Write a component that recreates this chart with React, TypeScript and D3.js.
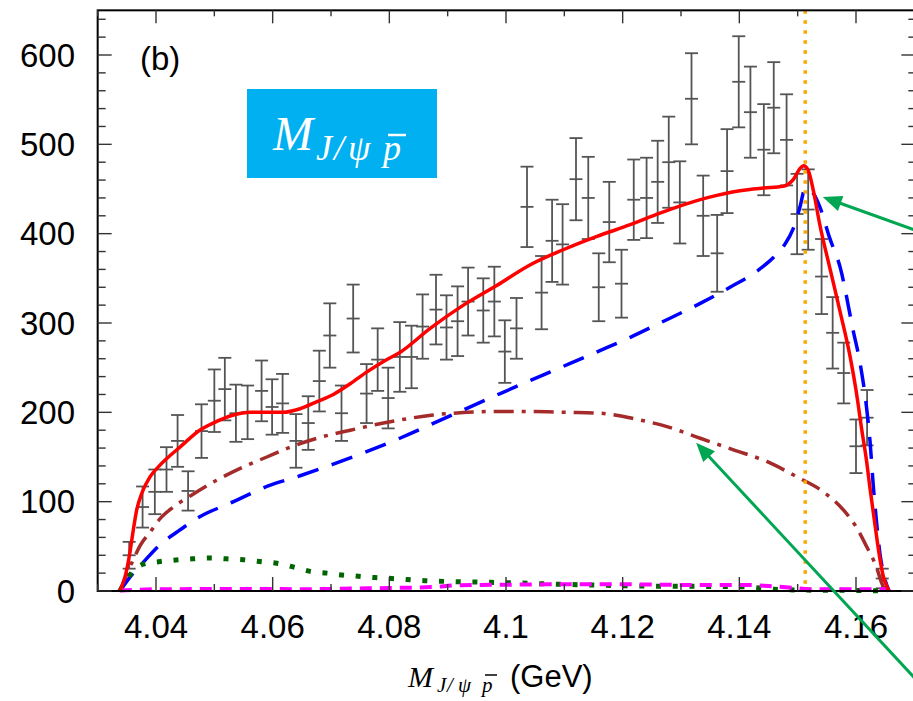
import React from 'react';
import * as d3 from 'd3';

// ---------- data ----------
const massX = [4.0354, 4.0377, 4.0398, 4.0418, 4.0437, 4.0455, 4.0478, 4.0500, 4.0518, 4.0537,
  4.0557, 4.0581, 4.0599, 4.0617, 4.0640, 4.0661, 4.0680, 4.0698, 4.0718, 4.0738,
  4.0761, 4.0780, 4.0798, 4.0818, 4.0838, 4.0857, 4.0880, 4.0898, 4.0917, 4.0935,
  4.0961, 4.0980, 4.0998, 4.1018, 4.1036, 4.1061, 4.1079, 4.1097, 4.1120, 4.1141,
  4.1159, 4.1177, 4.1198, 4.1219, 4.1241, 4.1260, 4.1279, 4.1298, 4.1318, 4.1338,
  4.1362, 4.1379, 4.1399, 4.1419, 4.1442, 4.1459, 4.1481, 4.1499, 4.1518, 4.1541,
  4.1560, 4.1579, 4.1600, 4.1619, 4.1645];
const counts = [40, 94, 111, 136, 168, 112, 179, 213, 226, 199,
  200, 224, 206, 210, 168, 188, 235, 286, 199, 305,
  221, 259, 216, 262, 262, 296, 315, 295, 302, 324,
  314, 324, 268, 294, 430, 334, 392, 388, 461, 440,
  340, 413, 344, 438, 440, 458, 480, 435, 551, 420,
  378, 470, 570, 536, 494, 541, 505, 422, 427, 352,
  289, 244, 162, 194, 14];
const errs = [15, 23, 25, 25, 29, 22, 30, 35, 35, 32,
  30, 34, 31, 33, 30, 30, 34, 36, 31, 38,
  33, 35, 34, 39, 35, 36, 39, 36, 39, 38,
  36, 39, 35, 34, 45, 41, 46, 45, 46, 46,
  38, 45, 38, 45, 45, 46, 51, 46, 51, 45,
  43, 47, 51, 51, 51, 51, 51, 45, 45, 42,
  40, 34, 30, 31, 11];

const totalX = [4.0338, 4.0347, 4.0355, 4.0361, 4.0367, 4.0376, 4.0390, 4.0404, 4.0418, 4.0441, 4.0475, 4.0498,
  4.0533, 4.0561, 4.0618, 4.0647, 4.0676, 4.0704, 4.0733, 4.0761, 4.0790, 4.0818, 4.0870, 4.0927,
  4.0984, 4.1041, 4.1098, 4.1156, 4.1213, 4.1264, 4.1344, 4.1401, 4.1441, 4.1475, 4.1493, 4.1504,
  4.1510, 4.1518, 4.1527, 4.1538, 4.1555, 4.1573, 4.1590, 4.1600, 4.1610, 4.1618, 4.1624, 4.1633,
  4.1641, 4.1647, 4.1653, 4.1656];
const totalY = [0, 16, 42, 68, 91, 110, 128, 139, 148, 161, 180, 188,
  197, 200, 200, 204, 212, 220, 232, 245, 257, 267, 294, 320,
  342, 365, 382, 397, 410, 423, 440, 448, 451, 453, 461, 473,
  476, 471, 448, 410, 362, 312, 262, 225, 180, 146, 115, 72,
  36, 16, 5, 0];

const blueX = [4.0338, 4.0361, 4.0378, 4.0407, 4.0436, 4.0475, 4.0533, 4.0590, 4.0647, 4.0704, 4.0761,
  4.0818, 4.0904, 4.0990, 4.1075, 4.1161, 4.1213, 4.1264, 4.1333, 4.1384, 4.1430, 4.1458, 4.1478,
  4.1492, 4.1504, 4.1513, 4.1527, 4.1538, 4.1555, 4.1573, 4.1595, 4.1607, 4.1618, 4.1624, 4.1630,
  4.1636, 4.1641, 4.1647, 4.1653, 4.1657];
const blueY = [0, 20, 32, 52, 66, 83, 100, 117, 129, 142, 156,
  171, 196, 221, 245, 269, 284, 300, 322, 340, 358, 373, 388,
  405, 430, 451, 445, 430, 395, 362, 292, 255, 206, 168, 115,
  72, 42, 20, 6, 0];

const brownX = [4.0338, 4.0361, 4.0373, 4.0390, 4.0407, 4.0430, 4.0458, 4.0504, 4.0550, 4.0590, 4.0630,
  4.0676, 4.0733, 4.0790, 4.0875, 4.0933, 4.0990, 4.1047, 4.1104, 4.1161, 4.1218, 4.1276, 4.1333,
  4.1390, 4.1447, 4.1498, 4.1544, 4.1578, 4.1601, 4.1618, 4.1636, 4.1644, 4.1650];
const brownY = [0, 35, 51, 66, 81, 94, 106, 124, 139, 150, 161,
  171, 180, 188, 197, 200, 201, 201, 200, 199, 193, 184, 171,
  158, 145, 128, 111, 91, 71, 50, 25, 9, 0];

const greenX = [4.0338, 4.0358, 4.0378, 4.0407, 4.0464, 4.0493, 4.0521, 4.0550, 4.0578, 4.0607, 4.0635,
  4.0664, 4.0693, 4.0718, 4.0747, 4.0775, 4.0804, 4.0861, 4.0918, 4.1004, 4.1090, 4.1147, 4.1230,
  4.1401, 4.1458, 4.1516, 4.1618, 4.1650];
const greenY = [0, 20, 30, 33, 36, 37, 36, 35, 33, 31, 27,
  22, 20, 18, 16.5, 15, 14, 11.5, 10.4, 9.3, 7.5, 6.7, 5.6,
  4.8, 2, 1, 0.5, 0];

const magentaX = [4.0338, 4.0404, 4.0590, 4.0650, 4.0763, 4.0878, 4.0910, 4.0993, 4.1107, 4.1193, 4.1336,
  4.1416, 4.1450, 4.1490, 4.1520, 4.1652, 4.1657];
const magentaY = [0.5, 2, 2.2, 2, 3, 4.5, 6.3, 7, 7.5, 7.5, 6.7,
  6.7, 5.6, 3.7, 1.9, 1.9, 0];

const thresholdX = 4.1513;
const xMajor = [4.04, 4.06, 4.08, 4.1, 4.12, 4.14, 4.16];
const xLabels = ['4.04', '4.06', '4.08', '4.1', '4.12', '4.14', '4.16'];
const yMajor = [0, 100, 200, 300, 400, 500, 600];
const yLabels = ['0', '100', '200', '300', '400', '500', '600'];

// arrows: [tailX, tailY, tipX, tipY] in data units
const arrow1 = [4.1727, 398, 4.1543, 441];
const arrow2 = [4.1727, -116, 4.1326, 166];

export default function App() {
  const W = 913, H = 701;
  const x = d3.scaleLinear().domain([4.03, 4.17]).range([97.67, 914.33]);
  const y = d3.scaleLinear().domain([0, 650]).range([591, 10.33]);
  const left = x(4.03), right = x(4.17), top = y(650), bottom = y(0);

  const mk = (xs: number[], ys: number[]) =>
    d3.line<number>().x((_, i) => x(xs[i])).y((_, i) => y(ys[i])).curve(d3.curveMonotoneX)(xs) || '';

  const xMinor = d3.range(0, 15).map(i => 4.03 + i * 0.01);
  const yMinor = d3.range(0, 33).map(i => i * 20);
  const tickColor = '#333';
  const sans = 'Liberation Sans, Arial, Helvetica, sans-serif';
  const serif = 'Liberation Serif, Times New Roman, serif';

  const arrow = (a: number[], key: string) => {
    const tx = x(a[0]), ty = y(a[1]), hx = x(a[2]), hy = y(a[3]);
    const dx = hx - tx, dy = hy - ty, L = Math.hypot(dx, dy);
    const ux = dx / L, uy = dy / L;
    const len = 19, hw = 8;
    const bx = hx - ux * len, by = hy - uy * len;
    const pts = `${hx},${hy} ${bx - uy * hw},${by + ux * hw} ${bx + uy * hw},${by - ux * hw}`;
    return (
      <g key={key}>
        <line x1={tx} y1={ty} x2={bx + ux * 2} y2={by + uy * 2} stroke="#00a651" strokeWidth={3} />
        <polygon points={pts} fill="#00a651" />
      </g>
    );
  };

  return (
    <svg width={W} height={H} style={{ position: 'absolute', left: 0, top: 0, background: '#fff' }}>
      <rect x={0} y={0} width={W} height={H} fill="#fff" />

      {/* error bars */}
      <g stroke="#555" strokeWidth={1.8} fill="none">
        {massX.map((mx, i) => {
          const cx = x(mx), y1 = y(counts[i] + errs[i]), y2 = y(counts[i] - errs[i]), yc = y(counts[i]);
          const hw = 6.5;
          return (
            <g key={i}>
              <line x1={cx} x2={cx} y1={y1} y2={y2} />
              <line x1={cx - hw} x2={cx + hw} y1={y1} y2={y1} />
              <line x1={cx - hw} x2={cx + hw} y1={y2} y2={y2} />
              <line x1={cx - hw} x2={cx + hw} y1={yc} y2={yc} />
            </g>
          );
        })}
      </g>

      {/* curves */}
      <path d={mk(brownX, brownY)} fill="none" stroke="#a52a2a" strokeWidth={3.5} strokeDasharray="20,8,4,8" />
      <path d={mk(blueX, blueY)} fill="none" stroke="#0000ff" strokeWidth={3.5} strokeDasharray="22,14" />
      <path d={mk(greenX, greenY)} fill="none" stroke="#006400" strokeWidth={5} strokeDasharray="5,11.7" />
      <path d={mk(magentaX, magentaY)} fill="none" stroke="#ff00ff" strokeWidth={4} strokeDasharray="12,8" />
      <path d={mk(totalX, totalY)} fill="none" stroke="#ff0000" strokeWidth={3.5} />

      {/* threshold */}
      <line x1={x(thresholdX)} x2={x(thresholdX)} y1={top} y2={bottom} stroke="#ffa500" strokeWidth={3.5} strokeDasharray="3.5,6.5" />

      {/* axes frame */}
      <rect x={left} y={top} width={right - left} height={bottom - top} fill="none" stroke="#000" strokeWidth={2} />

      {/* ticks */}
      <g stroke={tickColor} strokeWidth={1.4}>
        {xMinor.map((t, i) => {
          const major = xMajor.some(m => Math.abs(m - t) < 1e-6);
          const lb = major ? 14 : 7, lt = major ? 13 : 6;
          return (
            <g key={'xt' + i}>
              <line x1={x(t)} x2={x(t)} y1={bottom} y2={bottom - lb} />
              <line x1={x(t)} x2={x(t)} y1={top} y2={top + lt} />
            </g>
          );
        })}
        {yMinor.map((t, i) => {
          const major = t % 100 === 0;
          const ll = major ? 14 : 8, lr = major ? 13 : 6;
          return (
            <g key={'yt' + i}>
              <line x1={left} x2={left + ll} y1={y(t)} y2={y(t)} />
              <line x1={right} x2={right - lr} y1={y(t)} y2={y(t)} />
            </g>
          );
        })}
      </g>

      {/* tick labels */}
      <g fontFamily={sans} fontSize={33} fill="#000">
        {xMajor.map((t, i) => (
          <text key={'xl' + i} x={x(t)} y={638} textAnchor="middle">{xLabels[i]}</text>
        ))}
        {yMajor.map((t, i) => (
          <text key={'yl' + i} x={75} y={y(t) + 11.8} textAnchor="end">{yLabels[i]}</text>
        ))}
      </g>

      {/* axis title */}
      <text fill="#000" fontFamily={serif} fontStyle="italic">
        <tspan x={408} y={687} fontSize={30}>M</tspan>
        <tspan x={437} y={692} fontSize={21}>J</tspan>
        <tspan x={447} y={692} fontSize={21}>/</tspan>
        <tspan x={458} y={692} fontSize={21}>ψ</tspan>
        <tspan x={482} y={692} fontSize={21}>p</tspan>
        <tspan x={510} y={687} fontSize={31} fontFamily={sans} fontStyle="normal">(GeV)</tspan>
      </text>
      <line x1={485} x2={497} y1={675} y2={675} stroke="#000" strokeWidth={1.5} />

      {/* panel label */}
      <text x={140} y={70} fontFamily={sans} fontSize={33} fill="#000">(b)</text>

      {/* blue box label */}
      <rect x={247} y={89} width={190} height={89} fill="#00b0f0" />
      <text fill="#fff" fontFamily={serif} fontStyle="italic">
        <tspan x={273} y={150} fontSize={48}>M</tspan>
        <tspan x={316} y={160} fontSize={36}>J</tspan>
        <tspan x={334} y={160} fontSize={36}>/</tspan>
        <tspan x={348} y={160} fontSize={36}>ψ</tspan>
        <tspan x={383} y={160} fontSize={36}>p</tspan>
      </text>
      <line x1={388} x2={406} y1={135} y2={135} stroke="#fff" strokeWidth={2.5} />

      {/* arrows */}
      {arrow(arrow1, 'a1')}
      {arrow(arrow2, 'a2')}
    </svg>
  );
}
